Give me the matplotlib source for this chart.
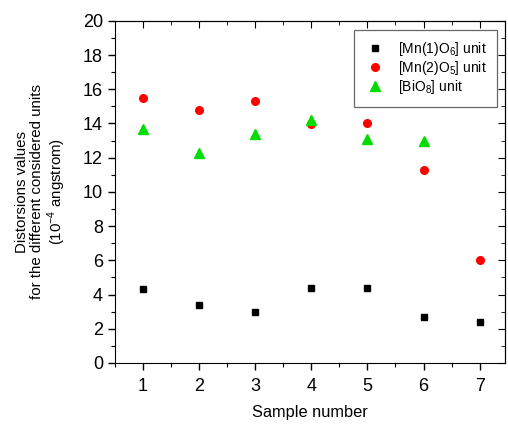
import matplotlib
matplotlib.use("Agg")
import matplotlib.pyplot as plt
import numpy as np
from matplotlib.ticker import MultipleLocator

plt.rcParams['font.family'] = ['Liberation Sans', 'DejaVu Sans']
plt.rcParams['mathtext.fontset'] = 'custom'
plt.rcParams['mathtext.rm'] = 'Liberation Sans'

samples = [1, 2, 3, 4, 5, 6, 7]
mn1_o6 = [4.3, 3.4, 3.0, 4.4, 4.4, 2.7, 2.4]
mn2_o5 = [15.5, 14.8, 15.3, 13.95, 14.0, 11.3, 6.0]
bio8_samples = [1, 2, 3, 4, 5, 6]
bio8 = [13.7, 12.3, 13.4, 14.2, 13.1, 13.0]

fig = plt.figure(figsize=(5.08, 4.25), dpi=100)
ax = fig.add_axes([0.226, 0.146, 0.768, 0.805])

ax.plot(samples, mn1_o6, 's', color='black', markersize=5, linestyle='none',
        label='[Mn(1)O$_6$] unit')
ax.plot(samples, mn2_o5, 'o', color='#ff0000', markersize=5.5, linestyle='none',
        label='[Mn(2)O$_5$] unit')
ax.plot(bio8_samples, bio8, '^', color='#00dd00', markersize=6.5, linestyle='none',
        label='[BiO$_8$] unit')

ax.set_xlim(0.5, 7.45)
ax.set_ylim(0, 20)
ax.xaxis.set_major_locator(MultipleLocator(1))
ax.xaxis.set_minor_locator(MultipleLocator(0.5))
ax.yaxis.set_major_locator(MultipleLocator(2))
ax.yaxis.set_minor_locator(MultipleLocator(1))
ax.tick_params(which='both', direction='out', labelsize=13)
ax.tick_params(which='major', length=5, width=1)
ax.tick_params(which='minor', length=3, width=0.8)
ax.tick_params(axis='x', pad=6)

# mirrored ticks on top and right, pointing inward
sec_x = ax.secondary_xaxis('top')
sec_x.xaxis.set_major_locator(MultipleLocator(1))
sec_x.xaxis.set_minor_locator(MultipleLocator(0.5))
sec_x.tick_params(which='both', direction='in', labeltop=False)
sec_x.tick_params(which='major', length=5)
sec_x.tick_params(which='minor', length=3)
sec_y = ax.secondary_yaxis('right')
sec_y.yaxis.set_major_locator(MultipleLocator(2))
sec_y.yaxis.set_minor_locator(MultipleLocator(1))
sec_y.tick_params(which='both', direction='in', labelright=False)
sec_y.tick_params(which='major', length=5)
sec_y.tick_params(which='minor', length=3)

ax.set_xlabel('Sample number', fontsize=11.8, labelpad=7)
ax.set_ylabel('Distorsions values\nfor the different considered units\n(10$^{-4}$ angstrom)',
              fontsize=10.8, labelpad=11, linespacing=1.1)

leg = ax.legend(loc='upper right', fontsize=10, frameon=True, fancybox=False,
                edgecolor='#444444', borderpad=0.75, labelspacing=0.08,
                handlelength=1.6, handletextpad=0.8, borderaxespad=0,
                bbox_to_anchor=(0.979, 0.974))
leg.get_frame().set_linewidth(0.9)

fig.savefig('out.png', dpi=100)
